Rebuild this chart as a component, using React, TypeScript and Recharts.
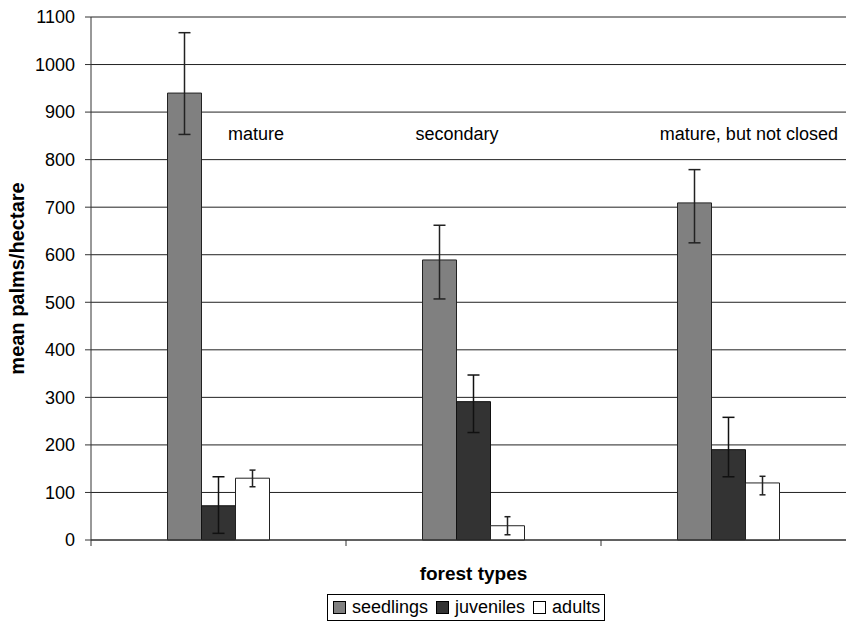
import { BarChart, Bar, XAxis, YAxis, CartesianGrid, ErrorBar, Legend, ReferenceDot } from 'recharts'

const categories = ['mature', 'secondary', 'mature, but not closed']
const seedlings = [940, 589, 709]
const juveniles = [72, 291, 190]
const adults = [130, 30, 120]
// error bars as [minus, plus]
const seedlingsErr = [[87, 127], [82, 73], [84, 70]]
const juvenilesErr = [[58, 61], [65, 56], [57, 68]]
const adultsErr = [[18, 17], [19, 19], [25, 14]]
const yTicks = [0, 100, 200, 300, 400, 500, 600, 700, 800, 900, 1000, 1100]
// text notes placed on the 0..3 frame axis
const notes = ['mature', 'secondary', 'mature, but not closed']
const notePos = [0.647, 1.435, 2.58]
const noteY = 855

const data = categories.map((c, i) => ({
    name: c,
    slot: i + 0.5,
    seedlings: seedlings[i],
    juveniles: juveniles[i],
    adults: adults[i],
    seedlingsErr: seedlingsErr[i],
    juvenilesErr: juvenilesErr[i],
    adultsErr: adultsErr[i],
}))

const font = '"Liberation Sans", Arial, sans-serif'

const legendItems = [
    { label: 'seedlings', fill: '#808080' },
    { label: 'juveniles', fill: '#333333' },
    { label: 'adults', fill: '#ffffff' },
]

function LegendBox() {
    return (
        <div style={{ height: 38, paddingTop: 8, boxSizing: 'border-box' }}>
            <div
                style={{
                    marginLeft: 327,
                    display: 'inline-flex',
                    height: 27,
                    boxSizing: 'border-box',
                    border: '1px solid #000',
                    alignItems: 'center',
                    paddingLeft: 5,
                    paddingRight: 4,
                    fontFamily: font,
                    fontSize: 18,
                    color: '#000',
                }}
            >
                {legendItems.map((it, i) => (
                    <span key={it.label} style={{ display: 'flex', alignItems: 'center', marginRight: i < 2 ? 8 : 0 }}>
                        <span
                            style={{
                                display: 'inline-block',
                                width: 11,
                                height: 11,
                                background: it.fill,
                                border: '1px solid #000',
                                marginRight: 6,
                            }}
                        />
                        {it.label}
                    </span>
                ))}
            </div>
        </div>
    )
}

export default function App() {
    return (
        <div style={{ position: 'absolute', left: 0, top: 0, width: 846, height: 624, overflow: 'hidden', background: '#fff' }}>
            <BarChart
                width={860}
                height={624}
                data={data}
                margin={{ top: 17, right: 4, left: 0, bottom: 0 }}
                barCategoryGap="30%"
                barGap={0}
                style={{ fontFamily: font }}
            >
                <CartesianGrid vertical={false} stroke="#222" />
                <XAxis dataKey="name" hide height={0} />
                <XAxis
                    xAxisId="frame"
                    dataKey="slot"
                    type="number"
                    domain={[0, 3]}
                    allowDataOverflow
                    ticks={[0, 1, 2, 3]}
                    tickSize={6}
                    tickFormatter={() => ''}
                    stroke="#333"
                    height={46}
                    label={{ value: 'forest types', position: 'insideBottom', offset: 6, fill: '#000', fontSize: 19, fontWeight: 'bold' }}
                />
                <YAxis
                    domain={[0, 1100]}
                    ticks={yTicks}
                    width={91}
                    tickSize={6}
                    tickMargin={10}
                    stroke="#333"
                    tick={{ fill: '#000', fontSize: 18 }}
                    label={{
                        value: 'mean palms/hectare',
                        angle: -90,
                        position: 'insideLeft',
                        offset: 17,
                        fill: '#000',
                        fontSize: 20,
                        fontWeight: 'bold',
                        style: { textAnchor: 'middle' },
                    }}
                />
                <Legend verticalAlign="bottom" wrapperStyle={{ left: 0, width: 860 }} content={() => <LegendBox />} />
                <Bar dataKey="seedlings" fill="#808080" stroke="#222" isAnimationActive={false}>
                    <ErrorBar dataKey="seedlingsErr" width={6} stroke="#222" strokeWidth={1.5} />
                </Bar>
                <Bar dataKey="juveniles" fill="#333333" stroke="#111" isAnimationActive={false}>
                    <ErrorBar dataKey="juvenilesErr" width={6} stroke="#111" strokeWidth={1.5} />
                </Bar>
                <Bar dataKey="adults" fill="#ffffff" stroke="#222" isAnimationActive={false}>
                    <ErrorBar dataKey="adultsErr" width={3} stroke="#222" strokeWidth={1.5} />
                </Bar>
                {notes.map((n, i) => (
                    <ReferenceDot
                        key={n}
                        xAxisId="frame"
                        x={notePos[i]}
                        y={noteY}
                        r={0}
                        stroke="none"
                        ifOverflow="visible"
                        label={{ value: n, position: 'center', fill: '#000', fontSize: 18 }}
                    />
                ))}
            </BarChart>
        </div>
    )
}
